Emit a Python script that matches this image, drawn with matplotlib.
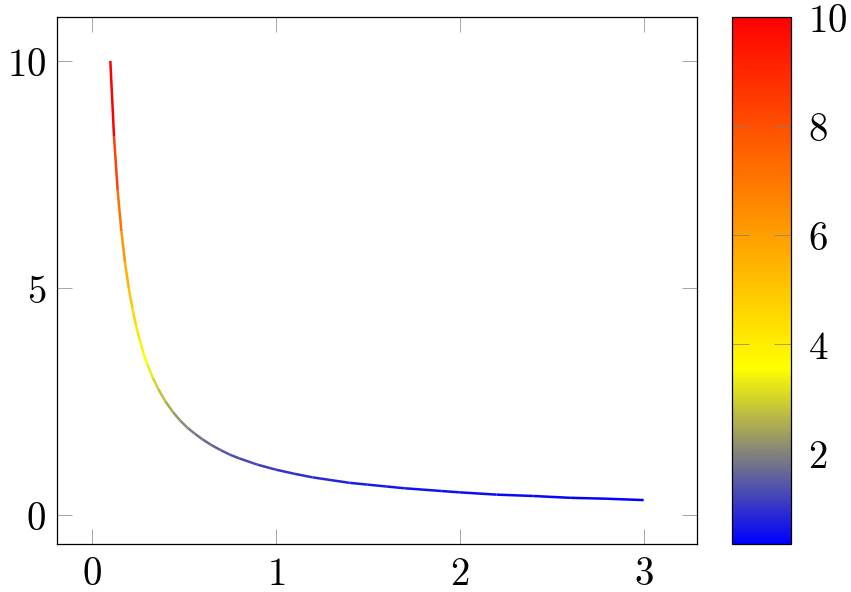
import numpy as np
import matplotlib
matplotlib.use('Agg')
import matplotlib.pyplot as plt
from matplotlib.collections import LineCollection
from matplotlib.colors import LinearSegmentedColormap, Normalize
from matplotlib.ticker import FuncFormatter

# valeurs
x_vals = [0.10, 0.12, 0.14, 0.16, 0.18, 0.20, 0.22, 0.24, 0.26, 0.28, 0.30,
          0.33, 0.36, 0.40, 0.44, 0.48, 0.52, 0.56, 0.60, 0.65, 0.70, 0.75,
          0.80, 0.90, 1.0, 1.1, 1.2, 1.3, 1.4, 1.5, 1.6, 1.7, 1.8, 1.9, 2.0,
          2.2, 2.4, 2.6, 2.8, 3.0]
y_vals = [10.0, 8.33, 7.14, 6.25, 5.56, 5.0, 4.55, 4.17, 3.85, 3.57, 3.33,
          3.03, 2.78, 2.5, 2.27, 2.08, 1.92, 1.79, 1.67, 1.54, 1.43, 1.33,
          1.25, 1.11, 1.0, 0.91, 0.83, 0.77, 0.71, 0.67, 0.63, 0.59, 0.56,
          0.53, 0.5, 0.45, 0.42, 0.38, 0.36, 0.33]
x_ticks = [0, 1, 2, 3]
y_ticks = [0, 5, 10]
cbar_ticks = [2, 4, 6, 8, 10]

plt.rcParams['mathtext.fontset'] = 'cm'
plt.rcParams['font.size'] = 28

cmap = LinearSegmentedColormap.from_list(
    'bleu_rouge', ['#0000ff', '#ffff00', '#ff8000', '#ff0000'])
norm = Normalize(vmin=min(y_vals), vmax=max(y_vals))

fig = plt.figure(figsize=(8.51, 5.92), dpi=100)
ax = fig.add_axes([57 / 851, 48 / 592, 640 / 851, 527 / 592])
cax = fig.add_axes([732 / 851, 48 / 592, 59 / 851, 527 / 592])

pts = np.column_stack([x_vals, y_vals])
segs = np.stack([pts[:-1], pts[1:]], axis=1)
lc = LineCollection(segs, cmap=cmap, norm=norm, linewidth=1.8,
                    capstyle='butt', joinstyle='round')
lc.set_array(np.array(y_vals[:-1]))
ax.add_collection(lc)

dx = (max(x_vals) - min(x_vals)) * 0.1
dy = (max(y_vals) - min(y_vals)) * 0.1
ax.set_xlim(min(x_vals) - dx, max(x_vals) + dx)
ax.set_ylim(min(y_vals) - dy, max(y_vals) + dy)
ax.set_xticks(x_ticks)
ax.set_yticks(y_ticks)

fmt = FuncFormatter(lambda v, p: r'$%g$' % v)
ax.xaxis.set_major_formatter(fmt)
ax.yaxis.set_major_formatter(fmt)
ax.tick_params(direction='in', length=11, width=0.5, color='0.5',
               top=True, right=True, pad=8)
for s in ax.spines.values():
    s.set_linewidth(0.9)

cb = fig.colorbar(plt.cm.ScalarMappable(norm=norm, cmap=cmap), cax=cax)
cb.set_ticks(cbar_ticks)
cb.ax.yaxis.set_major_formatter(fmt)
cb.ax.tick_params(direction='in', length=12, width=0.5, color='0.5',
                  left=True, right=True, pad=12)
cb.outline.set_linewidth(0.9)

fig.savefig('out.png', dpi=100)
